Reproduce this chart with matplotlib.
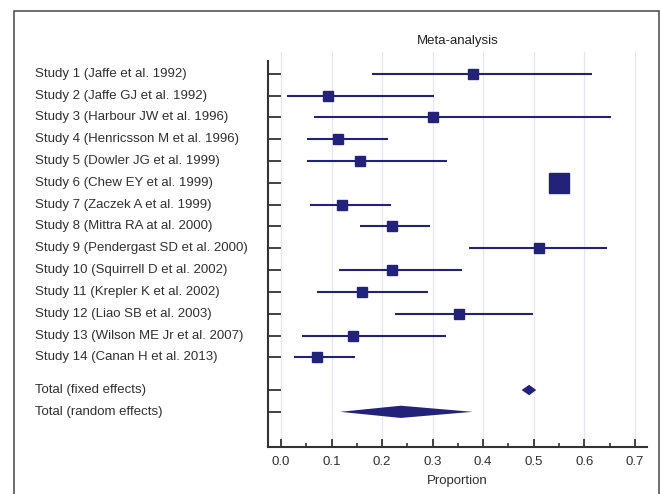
import matplotlib.pyplot as plt
import matplotlib.transforms as transforms
from matplotlib.patches import Rectangle
import numpy as np

plt.rcParams['font.family'] = ['Liberation Sans', 'DejaVu Sans']

# studies
studies = ["Study 1 (Jaffe et al. 1992)", "Study 2 (Jaffe GJ et al. 1992)",
           "Study 3 (Harbour JW et al. 1996)", "Study 4 (Henricsson M et al. 1996)",
           "Study 5 (Dowler JG et al. 1999)", "Study 6 (Chew EY et al. 1999)",
           "Study 7 (Zaczek A et al. 1999)", "Study 8 (Mittra RA at al. 2000)",
           "Study 9 (Pendergast SD et al. 2000)", "Study 10 (Squirrell D et al. 2002)",
           "Study 11 (Krepler K et al. 2002)", "Study 12 (Liao SB et al. 2003)",
           "Study 13 (Wilson ME Jr et al. 2007)", "Study 14 (Canan H et al. 2013)"]
proportion = [0.380, 0.094, 0.300, 0.113, 0.156, 0.550, 0.121, 0.220, 0.510,
              0.220, 0.160, 0.352, 0.143, 0.071]
ci_low = [0.181, 0.011, 0.066, 0.051, 0.052, 0.535, 0.057, 0.156, 0.371,
          0.115, 0.072, 0.225, 0.041, 0.026]
ci_high = [0.615, 0.303, 0.652, 0.212, 0.328, 0.566, 0.217, 0.295, 0.645,
           0.358, 0.290, 0.499, 0.326, 0.146]
# marker size in points (relative weight)
box_size = [7.0, 6.8, 6.5, 7.2, 7.0, 14.5, 7.5, 7.8, 6.8, 7.5, 7.3, 6.8, 7.2, 7.8]

# pooled estimates
pooled_labels = ["Total (fixed effects)", "Total (random effects)"]
pooled_low = [0.476, 0.117]
pooled_est = [0.491, 0.237]
pooled_high = [0.505, 0.379]

navy = '#22227a'
txt = '#303030'

fig = plt.figure(figsize=(6.6, 4.94), dpi=100)
ax = fig.add_axes([0.406, 0.0957, 0.574, 0.799])

rows = np.arange(1, len(studies) + 1)
pooled_rows = [len(studies) + 1.5, len(studies) + 2.5]

# study CIs and boxes
for r, lo, hi, p, s in zip(rows, ci_low, ci_high, proportion, box_size):
    ax.plot([lo, hi], [r, r], color=navy, lw=1.5, solid_capstyle='butt', zorder=3)
    ax.plot(p, r, marker='s', ms=s, color=navy, zorder=4)

# diamonds
half_h = [0.24, 0.28]
for r, lo, est, hi, h in zip(pooled_rows, pooled_low, pooled_est, pooled_high, half_h):
    ax.fill([lo, est, hi, est], [r, r - h, r, r + h], color=navy, lw=0, zorder=4)

ax.set_xlim(-0.0257, 0.7237)
ax.set_ylim(18.1, 0)

ax.set_xticks(np.arange(0, 0.71, 0.1))
ax.set_xticks(np.arange(0.05, 0.7, 0.1), minor=True)
ax.set_xticklabels(['0.0', '0.1', '0.2', '0.3', '0.4', '0.5', '0.6', '0.7'])
ax.tick_params(axis='x', which='major', direction='in', length=6, width=1.3,
               color='#333333', labelsize=9.5, labelcolor=txt, pad=7)
ax.tick_params(axis='x', which='minor', direction='in', length=3, width=1.2,
               color='#333333')
ax.xaxis.grid(True, which='major', color='#e6e6ee', lw=0.9, zorder=0)
ax.set_axisbelow(True)

ax.set_yticks(list(rows) + pooled_rows)
ax.set_yticklabels([])
ax.tick_params(axis='y', direction='in', length=9, width=1.3, color='#333333')

for sp in ['top', 'right']:
    ax.spines[sp].set_visible(False)
ax.spines['left'].set_color('#333333')
ax.spines['bottom'].set_color('#333333')
ax.spines['left'].set_linewidth(1.5)
ax.spines['bottom'].set_linewidth(1.5)
ax.spines['left'].set_bounds(18.1, 0.4)

ax.set_xlabel('Proportion', fontsize=9.5, color=txt, labelpad=5)
ax.set_title('Meta-analysis', fontsize=9.5, color='#222222', pad=6)

# row labels, left aligned
trans = transforms.blended_transform_factory(fig.transFigure, ax.transData)
for r, lab in zip(list(rows) + pooled_rows, studies + pooled_labels):
    ax.text(0.053, r, lab, transform=trans, ha='left', va='center',
            fontsize=9.5, color=txt)

# outer frame (bottom cut off)
fig.patches.append(Rectangle((0.021, -0.05), 0.977, 1.028, transform=fig.transFigure,
                             fill=False, edgecolor='#555555', lw=1.2))

plt.savefig('out.png', dpi=100)
